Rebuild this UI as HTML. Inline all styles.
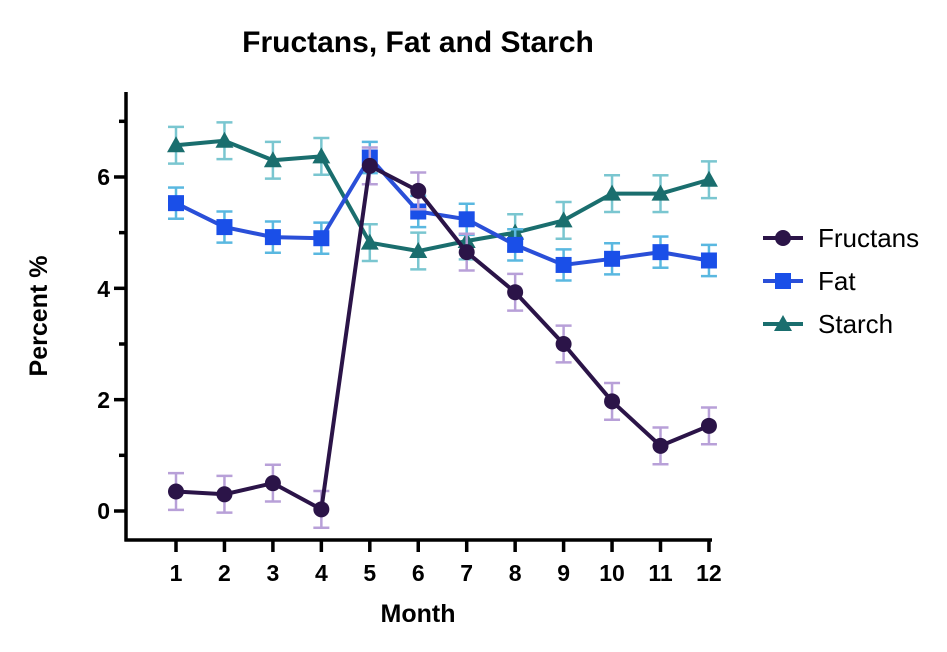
<!DOCTYPE html>
<html><head><meta charset="utf-8"><style>
html,body{margin:0;padding:0;background:#fff;}
svg{display:block;font-family:"Liberation Sans",Arial,sans-serif;}
</style></head><body>
<svg id="s" width="947" height="652" viewBox="0 0 947 652" xmlns="http://www.w3.org/2000/svg">
<text x="418" y="52" font-size="30" font-weight="bold" text-anchor="middle" fill="#000">Fructans, Fat and Starch</text>
<g stroke="#000" stroke-width="3.5" fill="none">
<line x1="126" y1="92" x2="126" y2="541.5"/>
<line x1="124.5" y1="540" x2="712" y2="540"/>
</g>
<g id="ticks" stroke="#000" stroke-width="3.5"></g>
<g font-size="23" font-weight="bold" fill="#000" text-anchor="end">
<text x="110" y="519">0</text><text x="110" y="408">2</text><text x="110" y="297">4</text><text x="110" y="185">6</text>
</g>
<g id="xl" font-size="23" font-weight="bold" fill="#000" text-anchor="middle"></g>
<text x="418" y="622" font-size="25" font-weight="bold" text-anchor="middle">Month</text>
<text transform="translate(47,316) rotate(-90)" font-size="25" font-weight="bold" text-anchor="middle">Percent %</text>
<g id="data"></g>
<g font-size="26" fill="#000">
<line x1="763" y1="238" x2="803" y2="238" stroke="#2b1448" stroke-width="4"/><circle cx="783" cy="238" r="8" fill="#2b1448"/>
<text x="818" y="247">Fructans</text>
<line x1="763" y1="281" x2="803" y2="281" stroke="#2a4fd8" stroke-width="4"/><rect x="775" y="273" width="16" height="16" fill="#1a4fe8"/>
<text x="818" y="290">Fat</text>
<line x1="763" y1="324" x2="803" y2="324" stroke="#1a6e6e" stroke-width="4"/><polygon points="783,315 792,331 774,331" fill="#1a6e6e"/>
<text x="818" y="333">Starch</text>
</g>
</svg>
<script>
var ns="http://www.w3.org/2000/svg";
function el(p,t,a,txt){var e=document.createElementNS(ns,t);for(var k in a)e.setAttribute(k,a[k]);if(txt)e.textContent=txt;p.appendChild(e);return e;}
var Y=function(v){return 511-v*55.67;},X=function(m){return 176+(m-1)*48.45;};
var tk=document.getElementById('ticks');
for(var v=0;v<=7;v++){var y=Y(v);el(tk,'line',{x1:v%2?119:114,y1:y,x2:126,y2:y});}
var xl=document.getElementById('xl');
for(var m=1;m<=12;m++){el(tk,'line',{x1:X(m),y1:540,x2:X(m),y2:552});el(xl,'text',{x:X(m),y:581},String(m));}
var S=[
{c:'#1a6e6e',e:'#7ac6d0',m:'tri',d:[6.57,6.65,6.3,6.37,4.82,4.67,4.85,5.0,5.22,5.7,5.7,5.95],er:0.33},
{c:'#2a4fd8',e:'#5ab8e0',m:'sq',d:[5.53,5.1,4.92,4.9,6.35,5.38,5.24,4.78,4.42,4.53,4.65,4.5],er:0.28},
{c:'#2b1448',e:'#b8a0d8',m:'ci',d:[0.35,0.3,0.5,0.03,6.2,5.75,4.65,3.93,3.0,1.97,1.17,1.53],er:0.33}];
var g=document.getElementById('data');
S.forEach(function(s){
 s.d.forEach(function(v,i){var x=X(i+1),y1=Y(v+s.er),y2=Y(v-s.er);
  el(g,'line',{x1:x,y1:y1,x2:x,y2:y2,stroke:s.e,'stroke-width':2.5});
  el(g,'line',{x1:x-8,y1:y1,x2:x+8,y2:y1,stroke:s.e,'stroke-width':2.5});
  el(g,'line',{x1:x-8,y1:y2,x2:x+8,y2:y2,stroke:s.e,'stroke-width':2.5});});
 el(g,'polyline',{points:s.d.map(function(v,i){return X(i+1)+','+Y(v);}).join(' '),fill:'none',stroke:s.c,'stroke-width':4,'stroke-linejoin':'round'});
 s.d.forEach(function(v,i){var x=X(i+1),y=Y(v);
  if(s.m=='ci')el(g,'circle',{cx:x,cy:y,r:8,fill:s.c});
  else if(s.m=='sq')el(g,'rect',{x:x-8,y:y-8,width:16,height:16,fill:'#1a4fe8'});
  else el(g,'polygon',{points:(x)+','+(y-9)+' '+(x+9)+','+(y+7)+' '+(x-9)+','+(y+7),fill:s.c});});
});
</script>
</body></html>
